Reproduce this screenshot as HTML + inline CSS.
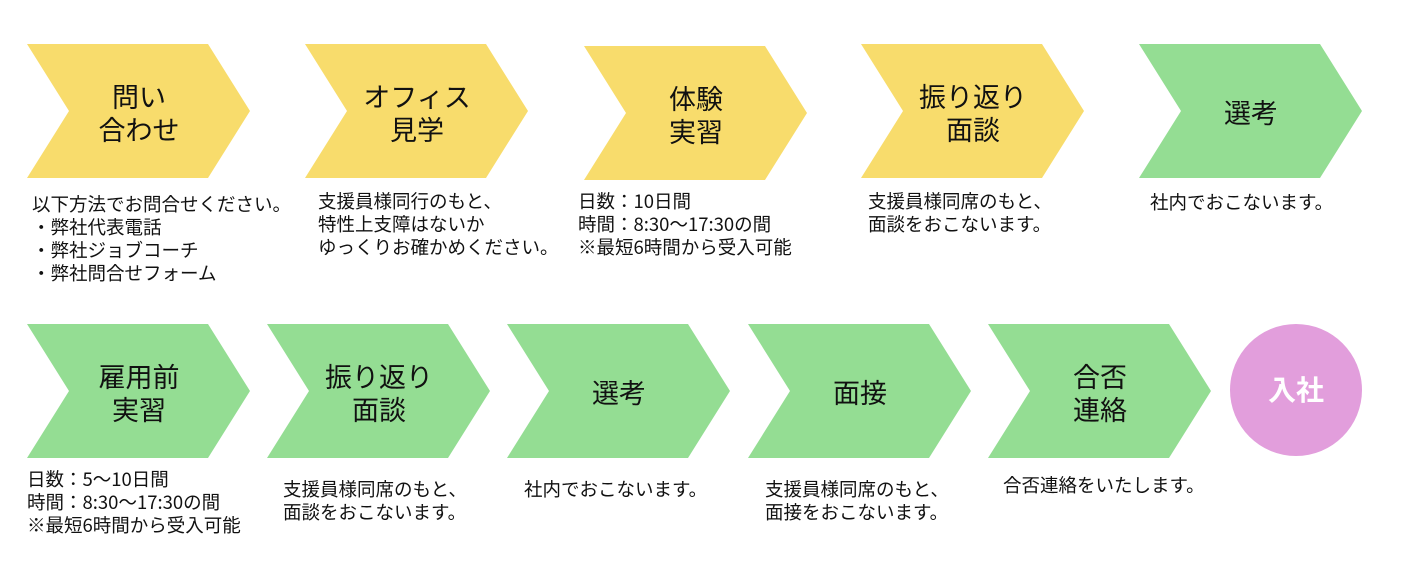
<!DOCTYPE html>
<html><head><meta charset="utf-8"><style>
body{margin:0;width:1406px;height:568px;background:#fff;overflow:hidden;position:relative;font-family:"Noto Sans CJK JP","Liberation Sans",sans-serif;color:#111}
svg{position:absolute;left:0;top:0}
.t{position:absolute;font-size:27px;line-height:33px;text-align:center;width:200px}
.b{position:absolute;font-size:18.5px;line-height:23px;white-space:nowrap}
</style></head><body>
<svg width="1406" height="568">
<g fill="#F8DC6C">
<polygon points="27,44 208,44 250,111 208,178 27,178 69,111"/>
<polygon points="305,44 486,44 528,111 486,178 305,178 347,111"/>
<polygon points="584,46 765,46 807,113 765,180 584,180 626,113"/>
<polygon points="861,44 1042,44 1084,111 1042,178 861,178 903,111"/>
</g>
<g fill="#94DD93">
<polygon points="1139,44 1320,44 1362,111 1320,178 1139,178 1181,111"/>
<polygon points="27,324 208,324 250,391 208,458 27,458 69,391"/>
<polygon points="267,324 448,324 490,391 448,458 267,458 309,391"/>
<polygon points="507,324 688,324 730,391 688,458 507,458 549,391"/>
<polygon points="748,324 929,324 971,391 929,458 748,458 790,391"/>
<polygon points="988,324 1169,324 1211,391 1169,458 988,458 1030,391"/>
</g>
<circle cx="1296" cy="390" r="66" fill="#E29EDC"/>
<text x="1296" y="400" font-size="28" font-weight="bold" fill="#fff" text-anchor="middle" font-family="Noto Sans CJK JP,sans-serif">入社</text>
</svg>
<div class="t" style="left:39px;top:79px">問い<br>合わせ</div>
<div class="t" style="left:317px;top:79px">オフィス<br>見学</div>
<div class="t" style="left:596px;top:81px">体験<br>実習</div>
<div class="t" style="left:873px;top:79px">振り返り<br>面談</div>
<div class="t" style="left:1151px;top:95px">選考</div>
<div class="t" style="left:39px;top:359px">雇用前<br>実習</div>
<div class="t" style="left:279px;top:359px">振り返り<br>面談</div>
<div class="t" style="left:519px;top:375px">選考</div>
<div class="t" style="left:760px;top:375px">面接</div>
<div class="t" style="left:1000px;top:359px">合否<br>連絡</div>
<div class="b" style="left:32px;top:193px">以下方法でお問合せください。<br>・弊社代表電話<br>・弊社ジョブコーチ<br>・弊社問合せフォーム</div>
<div class="b" style="left:318px;top:190px">支援員様同行のもと、<br>特性上支障はないか<br>ゆっくりお確かめください。</div>
<div class="b" style="left:578px;top:190px">日数：10日間<br>時間：8:30～17:30の間<br>※最短6時間から受入可能</div>
<div class="b" style="left:868px;top:190px">支援員様同席のもと、<br>面談をおこないます。</div>
<div class="b" style="left:1150px;top:191px">社内でおこないます。</div>
<div class="b" style="left:27px;top:468px">日数：5～10日間<br>時間：8:30～17:30の間<br>※最短6時間から受入可能</div>
<div class="b" style="left:283px;top:478px">支援員様同席のもと、<br>面談をおこないます。</div>
<div class="b" style="left:524px;top:478px">社内でおこないます。</div>
<div class="b" style="left:765px;top:478px">支援員様同席のもと、<br>面接をおこないます。</div>
<div class="b" style="left:1003px;top:474px">合否連絡をいたします。</div>
</body></html>
